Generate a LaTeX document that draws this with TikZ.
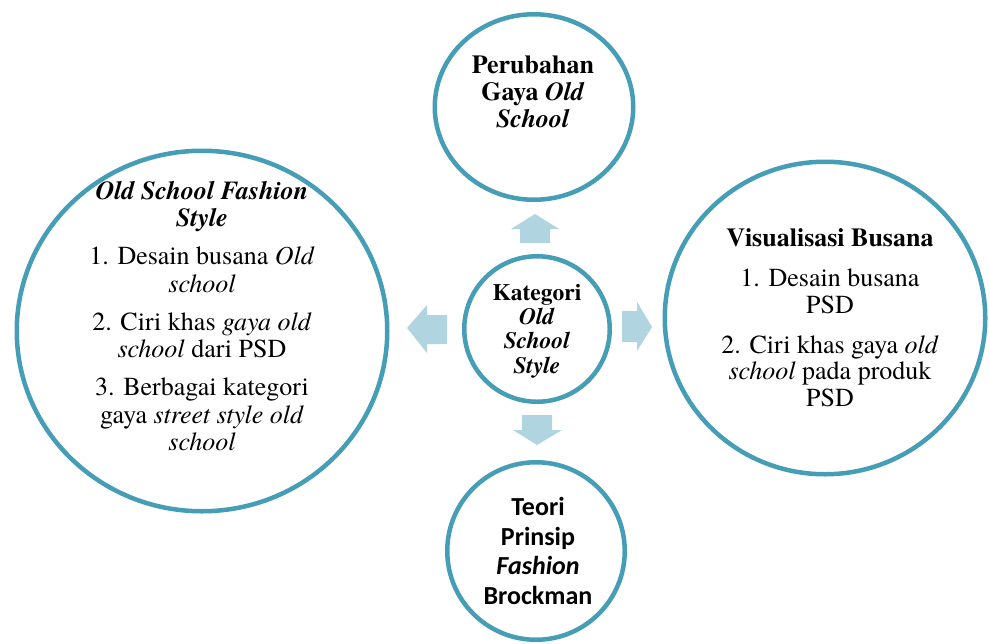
\documentclass[tikz,border=0pt]{standalone}
\usepackage{fontspec}
\setmainfont{texgyretermes}[
  Extension=.otf,
  UprightFont=*-regular,
  BoldFont=*-bold,
  ItalicFont=*-italic,
  BoldItalicFont=*-bolditalic]
\newfontfamily\calibri{Carlito}
\usetikzlibrary{shapes.geometric}
\definecolor{mteal}{RGB}{70,157,182}
\definecolor{mlight}{RGB}{176,212,224}

\tikzset{
  ring/.style={ellipse, draw=mteal, line width=4.5pt, fill=white},
  txt/.style={align=center, font=\fontsize{26}{27.5}\selectfont},
}

\begin{document}
\begin{tikzpicture}[x=1pt, y=1pt, yscale=-1, inner sep=0pt, outer sep=0pt]

% canvas
\path[fill=white, use as bounding box] (0,0) rectangle (990,643);

% rings
\node[ring, minimum width=198.5pt, minimum height=185.5pt] (perubahan) at (534,107) {};
\node[ring, minimum width=370.5pt, minimum height=360.5pt] (fashion) at (202,331) {};
\node[ring, minimum width=320.5pt, minimum height=312.5pt] (visual) at (825,318) {};
\node[ring, minimum width=177.5pt, minimum height=177.5pt] (teori) at (536,551) {};
\node[ring, minimum width=145.5pt, minimum height=145.5pt] (kategori) at (537,329) {};

% block arrows
\fill[mlight] (535,214) -- (559,229) -- (550,229) -- (550,243) -- (520,243)
  -- (520,229) -- (511,229) -- cycle;
\fill[mlight] (537,445) -- (562,430) -- (552,430) -- (552,415) -- (522,415)
  -- (522,430) -- (513,430) -- cycle;
\fill[mlight] (407,328) -- (427,305) -- (427,315) -- (447,315) -- (447,344)
  -- (427,344) -- (427,353) -- cycle;
\fill[mlight] (652,327) -- (637,302) -- (637,311) -- (622,311) -- (622,342)
  -- (637,342) -- (637,351) -- cycle;

% texts
\node[txt, font=\bfseries\fontsize{26}{27}\selectfont] (perubahanText) at (533,92)
  {Perubahan\\Gaya \textit{Old}\\\textit{School}};

\node[txt] (fashionText) at (202,316)
  {\textbf{\textit{Old School Fashion}}\\\textbf{\textit{Style}}\\[10.5pt]
   1. Desain busana \textit{Old}\\\textit{school}\\[10.5pt]
   2. Ciri khas \textit{gaya old}\\\textit{school} dari PSD\\[10.5pt]
   3. Berbagai kategori\\gaya \textit{street style old}\\\textit{school}};

\node[txt, font=\fontsize{26}{26.8}\selectfont] (visualText) at (830,318)
  {\textbf{Visualisasi Busana}\\[13pt]
   1. Desain busana\\PSD\\[13pt]
   2. Ciri khas gaya \textit{old}\\\textit{school} pada produk\\PSD};

\node[txt, font=\bfseries\fontsize{23.5}{24.3}\selectfont] (kategoriText) at (537,331)
  {Kategori\\\textit{Old}\\\textit{School}\\\textit{Style}};

\node[txt, font=\calibri\bfseries\fontsize{26}{29.6}\selectfont] (teoriText) at (538,551)
  {Teori\\Prinsip\\\textit{Fashion}\\Brockman};

\end{tikzpicture}
\end{document}
